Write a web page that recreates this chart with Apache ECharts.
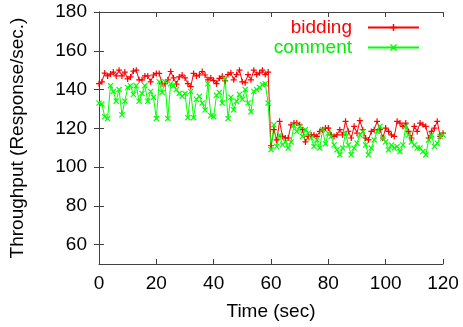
<!DOCTYPE html>
<html>
<head>
<meta charset="utf-8">
<script src="https://cdn.jsdelivr.net/npm/echarts@6/dist/echarts.min.js"></script>
<style>
html,body{margin:0;padding:0;background:#fff;}
#chart{width:463px;height:327px;}
</style>
</head>
<body>
<div id="chart"></div>
<script>
// Time in seconds (one sample per second, 0..120)
const timeSec = [];
for (let i = 0; i <= 120; i++) timeSec.push(i);

const bidding = [
  143, 144, 148.5, 147, 148, 149, 147, 150, 147, 149,
  145.5, 146.5, 149.5, 150, 145, 145, 147, 147, 144, 147.5,
  148.3, 148.3, 143, 143, 145, 149.3, 146, 142.8, 146.5, 147.5,
  146, 143, 141.5, 148.3, 147, 147.5, 149.3, 147.5, 145, 146,
  144.6, 143, 145.8, 146.8, 144.6, 147.7, 148.6, 145, 147.7, 150,
  144, 143.5, 147.7, 145, 150, 147.7, 148.6, 150, 147.7, 149,
  111, 119.3, 114, 123.6, 115.8, 115, 115, 121.8, 122.7, 122.7,
  121.8, 119.3, 113, 115.8, 116.6, 116.6, 115.8, 118.4, 119.3, 120.1,
  120.1, 116.6, 115.8, 116.6, 119.3, 116.6, 123.6, 118.4, 115, 121,
  117.5, 124, 119.3, 115, 114, 118.4, 119.3, 123.6, 119.3, 115,
  120.1, 118.4, 116.6, 115.8, 123.6, 122.7, 121, 122.7, 118.4, 115,
  121, 118.4, 122.7, 121.8, 121, 115, 118.4, 120.1, 123.6, 115.8,
  117.5
];

const comment = [
  133, 132.5, 126, 125, 142, 139, 134, 140, 127, 134,
  141, 142, 137.5, 142, 134, 138, 142, 134, 139, 136,
  125, 144, 138.5, 144, 125, 143, 142, 140, 138, 136.5,
  138, 125.5, 139, 125.5, 135, 136.5, 133, 129.5, 143, 126.5,
  126, 137, 138.5, 133, 145.5, 125, 136, 129.5, 134, 137.5,
  135, 140, 133, 128.5, 139, 140, 141, 142.5, 143, 133,
  109, 121.8, 110.6, 116.6, 111.5, 113, 109.8, 113, 121.4, 118.4,
  121, 115.8, 119.3, 117.5, 115, 110.6, 114, 109.8, 119.3, 112,
  117.5, 115.8, 111.4, 108.9, 106.3, 109.8, 117.5, 111.4, 106.3, 109.8,
  112.3, 116.6, 118.4, 111.4, 106.3, 109.8, 114, 118.4, 121, 115,
  113, 108.9, 111.4, 109.8, 110.6, 108, 111.4, 121, 116.6, 113,
  111.4, 109.8, 109.8, 108, 106.3, 114, 116.6, 110.6, 112.3, 115.8,
  116.6
];

const yTicks = [60, 80, 100, 120, 140, 160, 180];
const xTicks = [0, 20, 40, 60, 80, 100, 120];

function pairs(vals) { return vals.map((v, i) => [timeSec[i], v]); }

const PLUS = 'path://M2,0H3V2H5V3H3V5H2V3H0V2H2Z';
const CROSS = 'path://M0,0.7L0.7,0L2.5,1.8L4.3,0L5,0.7L3.2,2.5L5,4.3L4.3,5L2.5,3.2L0.7,5L0,4.3L1.8,2.5Z';
const FONT = 'Liberation Sans';
const AX = '#404040';

const chart = echarts.init(document.getElementById('chart'), null, {renderer: 'canvas'});
const baseX = {
  type: 'value', min: 0, max: 120, interval: 20,
  axisLine: {show: true, lineStyle: {color: AX, width: 1}},
  axisTick: {show: true, inside: true, length: 5, lineStyle: {color: AX}},
  splitLine: {show: false}
};
const baseY = {
  type: 'value', min: 50, max: 180,
  axisLine: {show: true, lineStyle: {color: AX, width: 1}},
  axisTick: {show: true, inside: true, length: 5, customValues: yTicks, lineStyle: {color: AX}},
  splitLine: {show: false}
};
chart.setOption({
  animation: false,
  textStyle: {fontFamily: FONT},
  grid: {left: 99, right: 20, top: 12, bottom: 63, containLabel: false},
  legend: {
    orient: 'vertical', right: 38, top: 13, align: 'right',
    itemWidth: 51, itemHeight: 9, itemGap: 1,
    textStyle: {fontFamily: FONT, fontSize: 19, padding: [0, 11, 0, 0]},
    data: [
      {name: 'bidding', textStyle: {color: '#ff0000'}},
      {name: 'comment', textStyle: {color: '#00ee00'}}
    ]
  },
  xAxis: [
    Object.assign({}, baseX, {
      position: 'bottom', name: 'Time (sec)', nameLocation: 'middle', nameGap: 38,
      nameTextStyle: {fontFamily: FONT, fontSize: 19, color: '#000'},
      axisLabel: {show: true, margin: 10, fontFamily: FONT, fontSize: 19, color: '#000',
        customValues: xTicks}
    }),
    Object.assign({}, baseX, {position: 'top', axisLabel: {show: false}})
  ],
  yAxis: [
    Object.assign({}, baseY, {
      position: 'left', name: 'Throughput (Response/sec.)', nameLocation: 'middle', nameGap: 72,
      nameTextStyle: {fontFamily: FONT, fontSize: 19, color: '#000'},
      axisLabel: {show: true, margin: 12, fontFamily: FONT, fontSize: 19, color: '#000',
        customValues: yTicks}
    }),
    Object.assign({}, baseY, {position: 'right', axisLabel: {show: false}})
  ],
  series: [
    {
      name: 'bidding', type: 'line', xAxisIndex: 0, yAxisIndex: 0,
      data: pairs(bidding),
      symbol: PLUS, symbolSize: 6, showAllSymbol: true,
      color: '#ff0000',
      lineStyle: {color: '#ff0000', width: 1},
      itemStyle: {color: '#ff0000'},
      emphasis: {disabled: true}
    },
    {
      name: 'comment', type: 'line', xAxisIndex: 0, yAxisIndex: 0,
      data: pairs(comment),
      symbol: CROSS, symbolSize: 6, showAllSymbol: true,
      color: '#00ff00',
      lineStyle: {color: '#00ff00', width: 1},
      itemStyle: {color: '#00ff00'},
      emphasis: {disabled: true}
    }
  ]
});
</script>
</body>
</html>
